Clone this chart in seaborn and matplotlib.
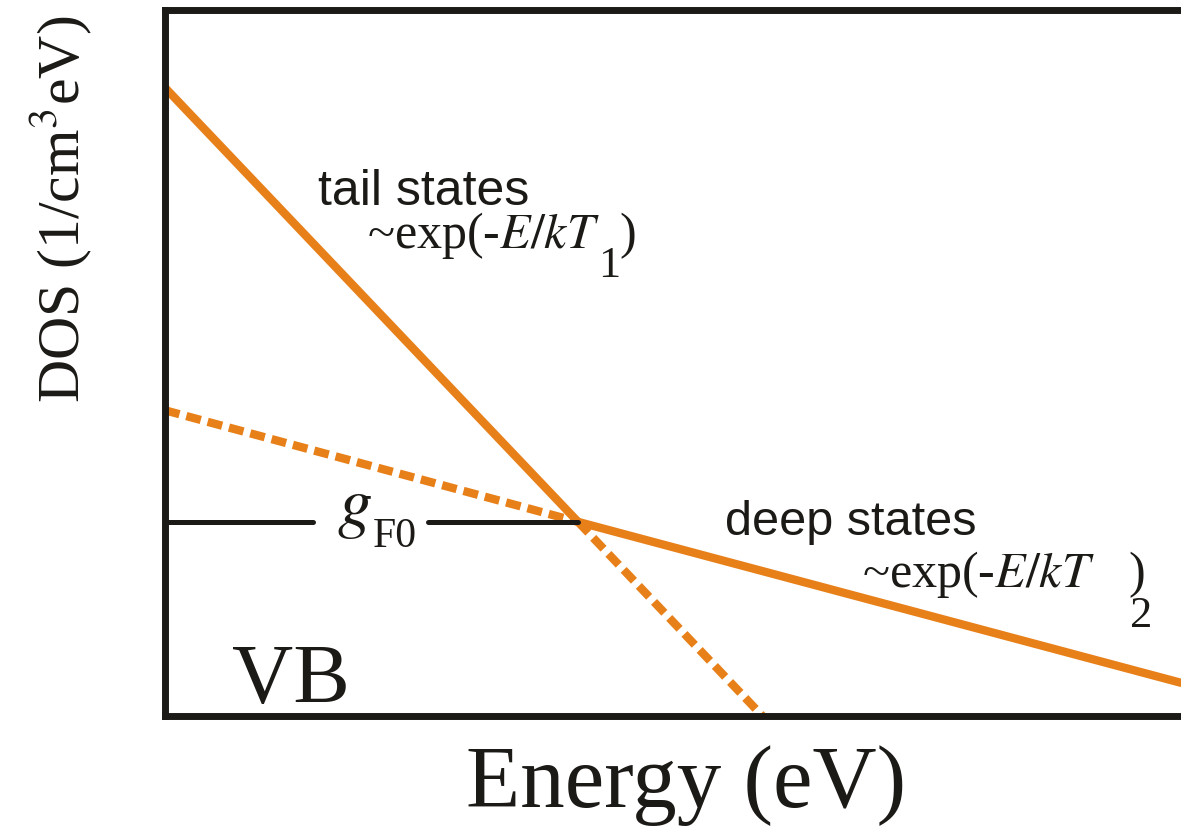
import matplotlib
matplotlib.use("Agg")
import matplotlib.pyplot as plt
import seaborn as sns

# ---- data (normalized energy / log-DOS units) ----
tail_energy = [0.0, 0.4065]
tail_dos = [0.89, 0.275]
tail_ext_energy = [0.4065, 0.588]
tail_ext_dos = [0.275, 0.0]
deep_energy = [0.4065, 1.0]
deep_dos = [0.275, 0.047]
deep_ext_energy = [0.0, 0.4065]
deep_ext_dos = [0.433, 0.275]
gF0_level = 0.275
gF0_left = [0.0, 0.1457]
gF0_right = [0.259, 0.4065]

ORANGE = "#E8801A"
BLACK = "#1c1a17"

sns.set_theme(style="white")
plt.rcParams["font.family"] = ["Liberation Serif", "DejaVu Serif"]
plt.rcParams["mathtext.fontset"] = "stix"

fig = plt.figure(figsize=(11.81, 8.34), dpi=100)
ax = fig.add_axes([165 / 1181, (834 - 716) / 834, 1016 / 1181, 706 / 834])
ax.set_xlim(0, 1)
ax.set_ylim(0, 1)

lw = 6.0
sns.lineplot(x=tail_energy, y=tail_dos, ax=ax, color=ORANGE, lw=lw)
sns.lineplot(x=deep_energy, y=deep_dos, ax=ax, color=ORANGE, lw=lw)
sns.lineplot(x=tail_ext_energy, y=tail_ext_dos, ax=ax, color=ORANGE, lw=lw,
             linestyle=(0, (1.8, 0.85)))
sns.lineplot(x=deep_ext_energy, y=deep_ext_dos, ax=ax, color=ORANGE, lw=lw,
             linestyle=(0, (1.8, 0.85)))
sns.lineplot(x=gF0_left, y=[gF0_level] * 2, ax=ax, color=BLACK, lw=3.6)
sns.lineplot(x=gF0_right, y=[gF0_level] * 2, ax=ax, color=BLACK, lw=3.6)

for s in ["top", "left", "bottom"]:
    ax.spines[s].set_visible(True)
    ax.spines[s].set_linewidth(5)
    ax.spines[s].set_color(BLACK)
ax.spines["right"].set_visible(False)
ax.set_xticks([])
ax.set_yticks([])

sans = ["Liberation Sans", "DejaVu Sans"]
ax.text(0.1506, 0.724, "tail states", family=sans, fontsize=36, color=BLACK)
ax.text(0.199, 0.663, r"~exp(-$E/kT$", fontsize=36, color=BLACK)
ax.text(0.426, 0.622, "1", fontsize=32, color=BLACK)
ax.text(0.447, 0.663, ")", fontsize=36, color=BLACK)

ax.text(0.551, 0.256, "deep states", family=sans, fontsize=35, color=BLACK)
ax.text(0.686, 0.183, r"~exp(-$E/kT$", fontsize=36, color=BLACK)
ax.text(0.948, 0.183, ")", fontsize=36, color=BLACK)
ax.text(0.95, 0.126, "2", fontsize=32, color=BLACK)

ax.text(0.169, 0.2705, r"$g$", fontsize=50, color=BLACK)
ax.text(0.2047, 0.239, "F0", fontsize=30, color=BLACK)

ax.text(0.066, 0.0184, "VB", fontsize=61, color=BLACK)

ax.set_xlabel("Energy (eV)", fontsize=64, color=BLACK, va="center")
ax.xaxis.set_label_coords(0.513, -0.098)
ax.set_ylabel(r"DOS (1/cm$^3$eV)", fontsize=43, color=BLACK, va="center")
ax.yaxis.set_label_coords(-0.1033, 0.717)

fig.savefig("out.png", dpi=100)
